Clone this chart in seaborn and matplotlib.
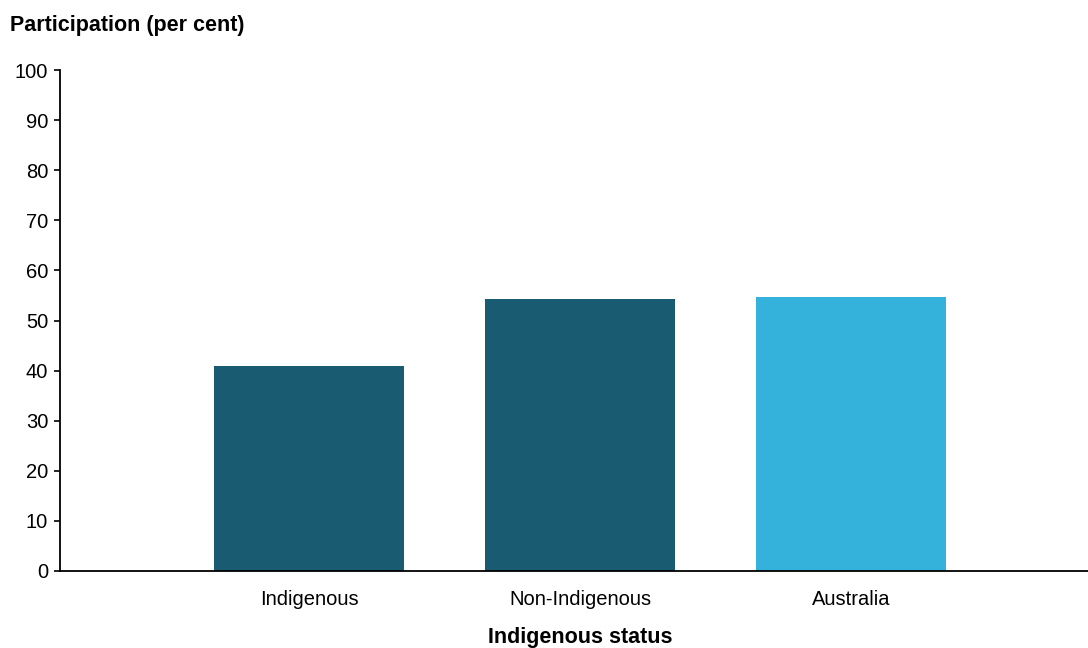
import matplotlib
matplotlib.use("Agg")
import matplotlib.pyplot as plt
import seaborn as sns
import pandas as pd

categories = ["Indigenous", "Non-Indigenous", "Australia"]
values = [40.9, 54.3, 54.7]
bar_colors = ["#195B71", "#195B71", "#35B2DC"]

sns.set_theme(style="white")
plt.rcParams['font.family'] = ['Liberation Sans', 'DejaVu Sans']

df = pd.DataFrame({"status": categories, "value": values})

fig = plt.figure(figsize=(10.88, 6.48), dpi=100)
ax = fig.add_axes([60/1088, 1 - 571/648, 1 - 60/1088, (571 - 70)/648])

sns.barplot(data=df, x="status", y="value", hue="status", palette=bar_colors,
            order=categories, hue_order=categories, width=0.70, legend=False,
            saturation=1, ax=ax, edgecolor="none")

ax.set_ylim(0, 100)
ax.set_yticks(range(0, 101, 10))
ax.set_xlim(-0.92, 2.874)

for s in ["top", "right"]:
    ax.spines[s].set_visible(False)
for s in ["left", "bottom"]:
    ax.spines[s].set_color("black")
    ax.spines[s].set_linewidth(1.3)

ax.tick_params(axis="y", which="major", length=4.5, width=1.2, color="black",
               direction="out", pad=4, labelsize=14.5, left=True)
ax.tick_params(axis="x", length=0, pad=14, labelsize=14.5)
for lab in ax.get_xticklabels() + ax.get_yticklabels():
    lab.set_color("black")

ax.set_ylabel("")
ax.set_xlabel("")
fig.text(580/1088, 1 - 637/648, "Indigenous status", fontsize=15.5,
         fontweight="bold", ha="center", va="center", color="black")
fig.text(10/1088, 1 - 25/648, "Participation (per cent)", fontsize=15.5,
         fontweight="bold", ha="left", va="center", color="black")

fig.savefig("out.png", dpi=100)
